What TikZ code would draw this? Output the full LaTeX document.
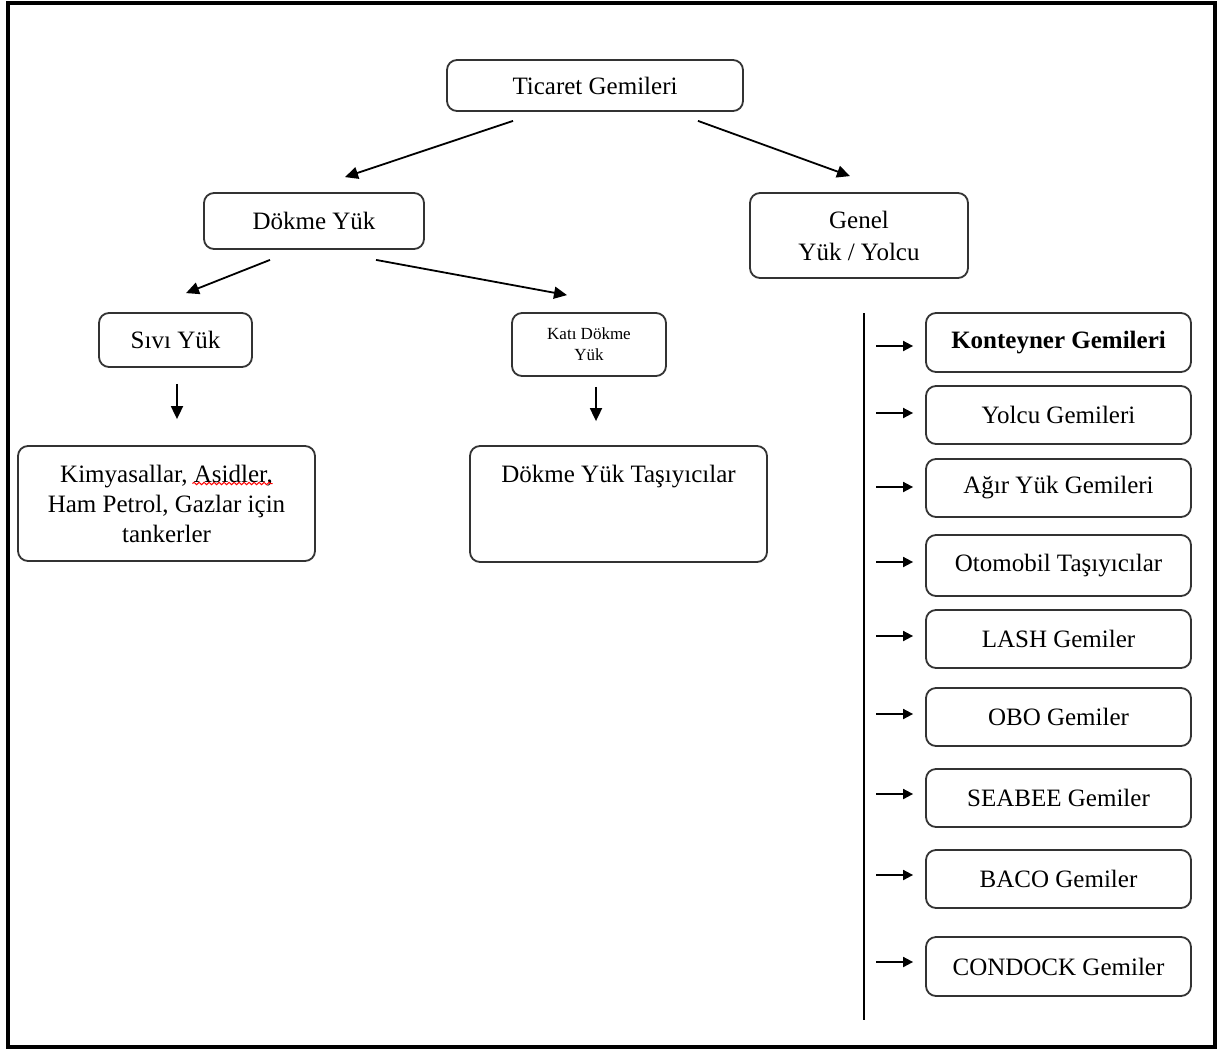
\documentclass[tikz,border=0pt]{standalone}
\usepackage{fontspec}
\setmainfont{Liberation Serif}
\usetikzlibrary{arrows.meta,decorations.pathmorphing}
\begin{document}
\begin{tikzpicture}[x=1pt,y=-1pt,
  box/.style={draw=black!80, line width=1.8pt, rounded corners=10pt, fill=white,
    align=center, inner sep=0pt, font=\fontsize{25}{30}\selectfont},
  rbox/.style={box, minimum width=265pt, minimum height=59pt},
  arr/.style={line width=1.8pt, -{Triangle[length=13pt,width=12pt]}},
  sarr/.style={line width=1.8pt, -{Triangle[length=10pt,width=10pt]}}
]
\useasboundingbox (0,0) rectangle (1232,1050);
\draw[line width=4pt] (8,3) rectangle (1215,1047);

% tree nodes
\node[box, minimum width=296pt, minimum height=51pt] (tg) at (595,85.5) {Ticaret Gemileri};
\node[box, minimum width=220pt, minimum height=56pt] (dy) at (314,221) {Dökme Yük};
\node[box, minimum width=218pt, minimum height=85pt, font=\fontsize{25}{32}\selectfont] (gy) at (859,235.5) {Genel\\Yük / Yolcu};
\node[box, minimum width=153pt, minimum height=54pt] (sy) at (175.5,340) {Sıvı Yük};
\node[box, minimum width=154pt, minimum height=63pt, font=\fontsize{17}{21}\selectfont] (kd) at (589,344.5) {Katı Dökme\\Yük};
\node[box, minimum width=297pt, minimum height=115pt] (km) at (166.5,503.5) {Kimyasallar, Asidler,\\Ham Petrol, Gazlar için\\tankerler};
\node[box, minimum width=297pt, minimum height=116pt,
  label={[anchor=center, yshift=-31pt, font=\fontsize{25}{30}\selectfont]north:Dökme Yük Taşıyıcılar}] (dt) at (618.5,504) {};

% spell-check squiggle
\draw[red, line width=1pt, decorate, decoration={snake, amplitude=1.2pt, segment length=5pt}]
  ([xshift=26pt,yshift=20pt]km.center) -- ([xshift=106pt,yshift=20pt]km.center);

% tree connectors
\draw[arr] ([xshift=-82pt,yshift=-9pt]tg.south) -- ([xshift=31pt,yshift=15pt]dy.north);
\draw[arr] ([xshift=103pt,yshift=-9pt]tg.south) -- ([xshift=-9pt,yshift=16pt]gy.north);
\draw[arr] ([xshift=-44pt,yshift=-10pt]dy.south) -- ([xshift=10.5pt,yshift=19pt]sy.north);
\draw[arr] ([xshift=62pt,yshift=-10pt]dy.south) -- ([xshift=-22pt,yshift=17pt]sy.north -| kd.north);
\draw[arr] ([xshift=1.5pt,yshift=-16pt]sy.south) -- ([xshift=10.5pt,yshift=26pt]km.north);
\draw[arr] ([xshift=7pt,yshift=-10pt]kd.south) -- ([xshift=-22.5pt,yshift=24pt]dt.north);

% right column
\coordinate (vtop) at (864,313);
\coordinate (vbot) at (864,1020);
\draw[line width=1.8pt] (vtop) -- (vbot);

\node[rbox, font=\fontsize{25}{30}\selectfont\bfseries] (r1) at (1058.5,342.5) {Konteyner Gemileri};
\node[rbox, minimum height=58pt] (r2) at (1058.5,415) {Yolcu Gemileri};
\node[rbox, minimum height=58pt] (r3) at (1058.5,488) {Ağır Yük Gemileri};
\node[rbox, minimum height=61pt] (r4) at (1058.5,565.5) {Otomobil Taşıyıcılar};
\node[rbox, minimum height=58pt] (r5) at (1058.5,639) {LASH Gemiler};
\node[rbox, minimum height=58pt] (r6) at (1058.5,717) {OBO Gemiler};
\node[rbox, minimum height=58pt] (r7) at (1058.5,798) {SEABEE Gemiler};
\node[rbox, minimum height=58pt] (r8) at (1058.5,879) {BACO Gemiler};
\node[rbox, minimum height=59pt] (r9) at (1058.5,966.5) {CONDOCK Gemiler};

\foreach \i/\yy in {1/346,2/413,3/487,4/562,5/636,6/714,7/794,8/875,9/962}{
  \coordinate (a\i) at (876,\yy);
  \draw[sarr] (a\i) -- ([xshift=-12pt]a\i -| r\i.west);
}
\end{tikzpicture}
\end{document}
